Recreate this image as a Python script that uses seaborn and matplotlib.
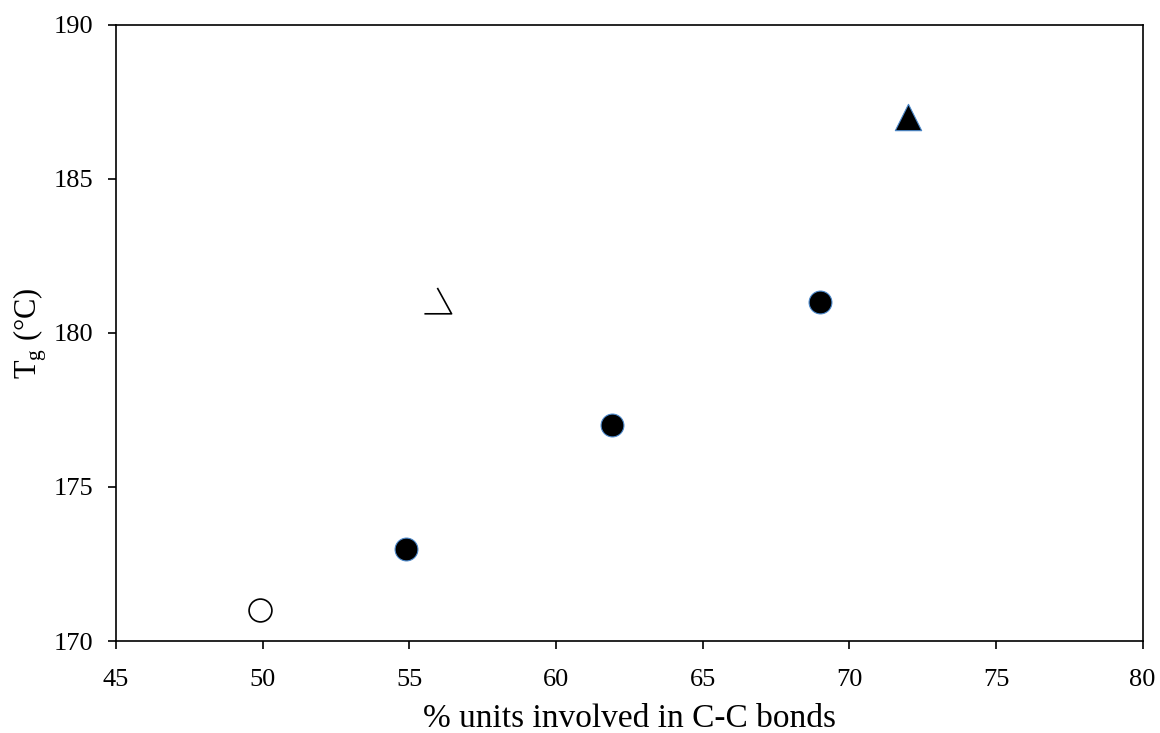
import numpy as np
import pandas as pd
import seaborn as sns
import matplotlib.pyplot as plt
from matplotlib.path import Path

sns.set_style("ticks")
plt.rcParams['font.family'] = ['Liberation Serif', 'DejaVu Serif']
plt.rcParams['text.color'] = 'black'
plt.rcParams['axes.labelcolor'] = 'black'

# data
x_open = [49.9]
y_open = [171]
x_filled = [54.9, 61.9, 69.0]
y_filled = [173, 177, 181]
x_tri = [72.0]
y_tri = [187]
x_odd = [56.0]
y_odd = [181]

edge_blue = '#4a86c8'

# broken triangle-like marker seen in the original
odd_marker = Path([(-0.05, 0.55), (0.5, -0.45), (-0.55, -0.45)],
                  [Path.MOVETO, Path.LINETO, Path.LINETO])

fig = plt.figure(figsize=(11.6, 7.33), dpi=100)
ax = fig.add_axes([0.1, 0.1255, 0.885, 0.8405])

sns.scatterplot(x=x_filled, y=y_filled, ax=ax, s=270, color='black',
                edgecolor=edge_blue, linewidth=0.8, zorder=3)
sns.scatterplot(x=x_open, y=y_open, ax=ax, s=270, facecolor='white',
                edgecolor='black', linewidth=1.2, zorder=3)
sns.scatterplot(x=x_tri, y=y_tri, ax=ax, s=360, marker='^', color='black',
                edgecolor=edge_blue, linewidth=0.8, zorder=3)
ax.scatter(x_odd, y_odd, s=420, marker=odd_marker, facecolor='none',
           edgecolor='black', linewidth=1.2, zorder=3)

ax.set_xlim(45, 80)
ax.set_ylim(170, 190)
ax.set_xticks(np.arange(45, 81, 5))
ax.set_yticks(np.arange(170, 191, 5))
ax.tick_params(axis='both', direction='out', length=6, width=1.2,
               labelsize=19, colors='black')
ax.tick_params(axis='y', pad=10)
ax.tick_params(axis='x', pad=14)
for sp in ax.spines.values():
    sp.set_visible(True)
    sp.set_linewidth(1.2)
    sp.set_color('black')

ax.set_xlabel('% units involved in C-C bonds', fontsize=24, labelpad=9)
ax.set_ylabel(r'T$_\mathregular{g}$ (°C)', fontsize=22, labelpad=4)

fig.savefig('out.png', dpi=100)
